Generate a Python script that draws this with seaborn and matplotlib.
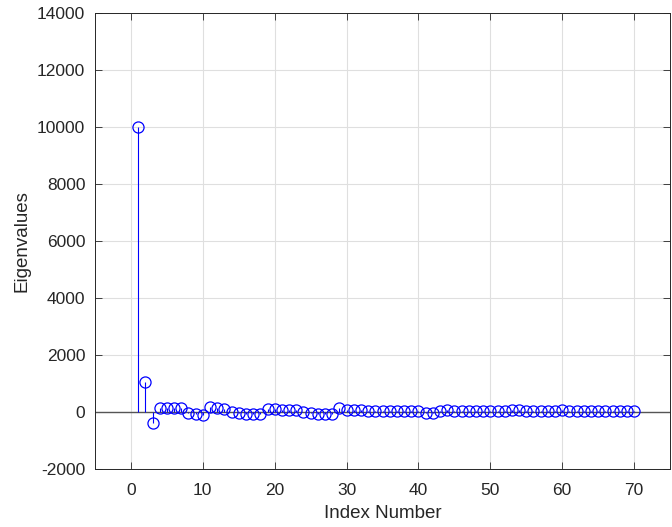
import numpy as np
import pandas as pd
import seaborn as sns
import matplotlib
matplotlib.use('Agg')
import matplotlib.pyplot as plt

# eigenvalues (index 1..70)
indice = list(range(1, 71))
autovalores = [10000, 1050, -400, 150, 150, 150, 150, -50, -60, -90,
               170, 150, 90, 10, -50, -70, -70, -70, 120, 90,
               70, 70, 70, 10, -20, -60, -60, -60, 135, 75,
               70, 70, 30, 20, 40, 40, 50, 50, 40, 30,
               -20, -20, 50, 60, 20, 20, 20, 20, 20, 20,
               20, 40, 60, 60, 50, 20, 20, 20, 20, 60,
               20, 20, 20, 20, 20, 20, 20, 20, 20, 20]
xticks = [0, 10, 20, 30, 40, 50, 60, 70]
yticks = list(range(-2000, 14001, 2000))

df = pd.DataFrame({'indice': indice, 'autovalor': autovalores})

sns.set_style('ticks')
plt.rcParams['font.family'] = ['Liberation Sans', 'DejaVu Sans']
plt.rcParams['axes.unicode_minus'] = False

cinza = (0.15, 0.15, 0.15)
fig = plt.figure(figsize=(6.72, 5.27), dpi=100)
ax = fig.add_axes([95 / 672, 1 - 469 / 527, 575 / 672, 456 / 527])

ax.axhline(0, color='#555555', lw=1.0, zorder=2)
ax.vlines(df['indice'], 0, df['autovalor'], color='blue', lw=0.8, zorder=3)
sns.lineplot(data=df, x='indice', y='autovalor', ax=ax, linestyle='none',
             marker='o', markersize=8, markerfacecolor='none',
             markeredgecolor='blue', markeredgewidth=0.9, zorder=4)

ax.set_xlim(-5, 75)
ax.set_ylim(-2000, 14000)
ax.set_xticks(xticks)
ax.set_yticks(yticks)
ax.grid(True, color='#dfdfdf', lw=0.8)
ax.set_axisbelow(True)
ax.tick_params(direction='in', top=True, right=True, labelsize=12.5,
               colors=cinza, length=5, width=0.6)
ax.tick_params(axis='x', pad=10)
ax.tick_params(axis='y', pad=7)
for s in ax.spines.values():
    s.set_color(cinza)
    s.set_linewidth(0.7)
ax.set_xlabel('Index Number', fontsize=13.5, color=cinza, labelpad=5)
ax.set_ylabel('Eigenvalues', fontsize=13.5, color=cinza, labelpad=5)

fig.savefig('out.png', dpi=100)
